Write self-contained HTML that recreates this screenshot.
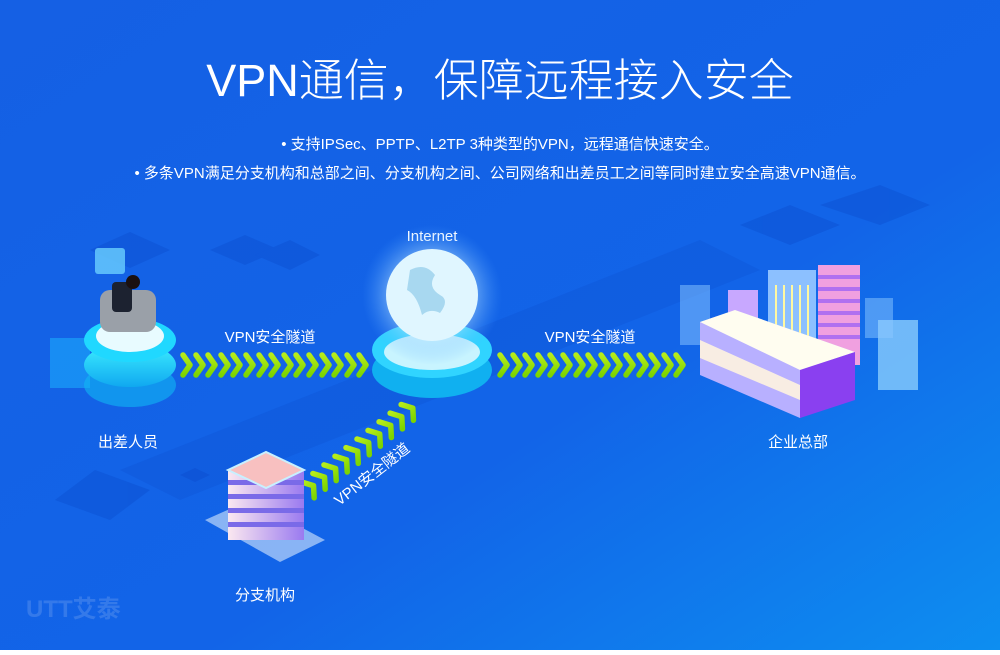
<!DOCTYPE html>
<html><head><meta charset="utf-8"><style>
html,body{margin:0;padding:0}
body{width:1000px;height:650px;overflow:hidden;font-family:"Liberation Sans","Noto Sans CJK SC",sans-serif}
</style></head><body>
<svg width="1000" height="650" viewBox="0 0 1000 650" xmlns="http://www.w3.org/2000/svg" font-family="Liberation Sans, Noto Sans CJK SC, sans-serif">
<defs>
<linearGradient id="bg" x1="0" y1="0" x2="1" y2="1">
<stop offset="0" stop-color="#1560e4"/><stop offset="0.6" stop-color="#1264e8"/><stop offset="1" stop-color="#0d8ef0"/></linearGradient>
<linearGradient id="chev" x1="0" y1="0" x2="0" y2="1"><stop offset="0" stop-color="#b6ec1a"/><stop offset="1" stop-color="#7cd400"/></linearGradient>
<radialGradient id="glow"><stop offset="0" stop-color="#ffffff" stop-opacity="0.9"/><stop offset="0.55" stop-color="#bfe8ff" stop-opacity="0.55"/><stop offset="1" stop-color="#4aa0ff" stop-opacity="0"/></radialGradient>
<linearGradient id="cyan" x1="0" y1="0" x2="0" y2="1"><stop offset="0" stop-color="#3ef0ff"/><stop offset="1" stop-color="#10a8f0"/></linearGradient>
<linearGradient id="stripe" x1="0" y1="0" x2="1" y2="0"><stop offset="0" stop-color="#fbe8f0"/><stop offset="1" stop-color="#9a7af0"/></linearGradient>
<g id="cv"><path d="M0,-10 L7,0 L0,10" fill="none" stroke="url(#chev)" stroke-width="5.5" stroke-linecap="round" stroke-linejoin="round"/></g>
</defs>
<rect width="1000" height="650" fill="url(#bg)"/>
<g fill="#0c4fd0" opacity="0.45">
<path d="M90,250 L130,232 L170,250 L130,268Z"/>
<path d="M210,250 L245,235 L280,250 L245,265Z"/>
<path d="M255,255 L290,240 L320,255 L290,270Z"/>
<path d="M55,500 L95,470 L150,490 L110,520Z"/>
<path d="M180,475 L195,468 L210,475 L195,482Z"/>
<path d="M740,225 L790,205 L840,225 L790,245Z"/>
<path d="M820,205 L880,185 L930,205 L880,225Z"/>
</g>
<path d="M120,470 L700,240 L760,270 L180,500Z" fill="#0a48c8" opacity="0.2"/>
<text x="500" y="96" text-anchor="middle" font-size="45" fill="#fff" font-weight="300">VPN通信，保障远程接入安全</text>
<text x="500" y="149" text-anchor="middle" font-size="15" fill="#fff">• 支持IPSec、PPTP、L2TP 3种类型的VPN，远程通信快速安全。</text>
<text x="500" y="178" text-anchor="middle" font-size="15" fill="#fff">• 多条VPN满足分支机构和总部之间、分支机构之间、公司网络和出差员工之间等同时建立安全高速VPN通信。</text>
<rect x="50" y="338" width="40" height="50" fill="#1aa0f8" opacity="0.7"/>
<ellipse cx="130" cy="385" rx="46" ry="22" fill="#10b8f4" opacity="0.6"/>
<ellipse cx="130" cy="365" rx="46" ry="22" fill="url(#cyan)"/>
<ellipse cx="130" cy="340" rx="46" ry="22" fill="#20d8ff"/>
<ellipse cx="130" cy="336" rx="34" ry="16" fill="#e8fbff"/>
<rect x="100" y="290" width="56" height="42" rx="10" fill="#9aa0a8"/>
<rect x="112" y="282" width="20" height="30" rx="4" fill="#1c2230"/>
<circle cx="133" cy="282" r="7" fill="#1a1010"/>
<rect x="95" y="248" width="30" height="26" rx="3" fill="#6ad0ff" opacity="0.8"/>
<text x="128" y="447" text-anchor="middle" font-size="15" fill="#fff">出差人员</text>
<text x="432" y="241" text-anchor="middle" font-size="15" fill="#fff">Internet</text>
<ellipse cx="432" cy="370" rx="60" ry="28" fill="#10b0f0"/>
<ellipse cx="432" cy="350" rx="60" ry="28" fill="#30d4ff"/>
<ellipse cx="432" cy="352" rx="48" ry="18" fill="#c8f4ff"/>
<circle cx="432" cy="295" r="70" fill="url(#glow)"/>
<circle cx="432" cy="295" r="46" fill="#e0f6ff"/>
<path d="M410,270 q15,-8 25,5 q-8,12 5,20 q10,5 0,18 q-10,-5 -18,2 q-5,-20 -15,-25Z" fill="#a8d8f0"/>
<g>
<use href="#cv" x="183" y="365"/><use href="#cv" x="196" y="365"/><use href="#cv" x="208" y="365"/><use href="#cv" x="221" y="365"/><use href="#cv" x="233" y="365"/><use href="#cv" x="246" y="365"/><use href="#cv" x="259" y="365"/><use href="#cv" x="271" y="365"/><use href="#cv" x="284" y="365"/><use href="#cv" x="296" y="365"/><use href="#cv" x="309" y="365"/><use href="#cv" x="322" y="365"/><use href="#cv" x="334" y="365"/><use href="#cv" x="347" y="365"/><use href="#cv" x="359" y="365"/>
</g>
<text x="270" y="342" text-anchor="middle" font-size="15" fill="#fff">VPN安全隧道</text>
<g>
<use href="#cv" x="500" y="365"/><use href="#cv" x="513" y="365"/><use href="#cv" x="525" y="365"/><use href="#cv" x="538" y="365"/><use href="#cv" x="550" y="365"/><use href="#cv" x="563" y="365"/><use href="#cv" x="576" y="365"/><use href="#cv" x="588" y="365"/><use href="#cv" x="601" y="365"/><use href="#cv" x="613" y="365"/><use href="#cv" x="626" y="365"/><use href="#cv" x="639" y="365"/><use href="#cv" x="651" y="365"/><use href="#cv" x="664" y="365"/><use href="#cv" x="676" y="365"/>
</g>
<text x="590" y="342" text-anchor="middle" font-size="15" fill="#fff">VPN安全隧道</text>
<g transform="translate(308,490) rotate(-38)">
<use href="#cv" x="0" y="0"/><use href="#cv" x="14" y="0"/><use href="#cv" x="28" y="0"/><use href="#cv" x="42" y="0"/><use href="#cv" x="56" y="0"/><use href="#cv" x="70" y="0"/><use href="#cv" x="84" y="0"/><use href="#cv" x="98" y="0"/><use href="#cv" x="112" y="0"/><use href="#cv" x="126" y="0"/>
<text x="60" y="32" text-anchor="middle" font-size="15" fill="#fff">VPN安全隧道</text>
</g>
<path d="M205,520 L250,500 L325,540 L280,562Z" fill="#a8c8f8" opacity="0.8"/>
<g>
<rect x="228" y="470" width="76" height="70" fill="url(#stripe)"/>
<g fill="#7a6ae8"><rect x="228" y="480" width="76" height="5"/><rect x="228" y="494" width="76" height="5"/><rect x="228" y="508" width="76" height="5"/><rect x="228" y="522" width="76" height="5"/></g>
<path d="M228,470 L266,452 L304,470 L266,488Z" fill="#f8c0c0" stroke="#c8f0ff" stroke-width="2"/>
</g>
<text x="265" y="600" text-anchor="middle" font-size="15" fill="#fff">分支机构</text>
<rect x="680" y="285" width="30" height="60" fill="#8cc8ff" opacity="0.5"/>
<rect x="878" y="320" width="40" height="70" fill="#9ad8ff" opacity="0.7"/>
<rect x="865" y="298" width="28" height="40" fill="#8cc8ff" opacity="0.5"/>
<rect x="728" y="290" width="30" height="40" fill="#c8a8ff"/>
<rect x="768" y="270" width="48" height="110" fill="#8cc0ff"/>
<g stroke="#fff8a0" stroke-width="2"><line x1="776" y1="285" x2="776" y2="370"/><line x1="784" y1="285" x2="784" y2="370"/><line x1="792" y1="285" x2="792" y2="370"/><line x1="800" y1="285" x2="800" y2="370"/><line x1="808" y1="285" x2="808" y2="370"/></g>
<rect x="818" y="265" width="42" height="100" fill="#f0a0e0"/>
<g fill="#b070f0"><rect x="818" y="275" width="42" height="4"/><rect x="818" y="287" width="42" height="4"/><rect x="818" y="299" width="42" height="4"/><rect x="818" y="311" width="42" height="4"/><rect x="818" y="323" width="42" height="4"/><rect x="818" y="335" width="42" height="4"/></g>
<path d="M700,322 L735,310 L855,352 L855,390 L800,418 L700,375Z" fill="#b8b0ff"/>
<path d="M700,322 L735,310 L855,352 L800,370Z" fill="#fffdf0"/>
<path d="M800,370 L855,352 L855,400 L800,418Z" fill="#8a40f0"/>
<path d="M700,340 L800,385 L800,400 L700,358Z" fill="#fff4e0" opacity="0.9"/>
<text x="798" y="447" text-anchor="middle" font-size="15" fill="#fff">企业总部</text>
<text x="26" y="617" font-size="24" font-weight="bold" fill="#ffffff" opacity="0.14">UTT艾泰</text>
</svg>
</body></html>
